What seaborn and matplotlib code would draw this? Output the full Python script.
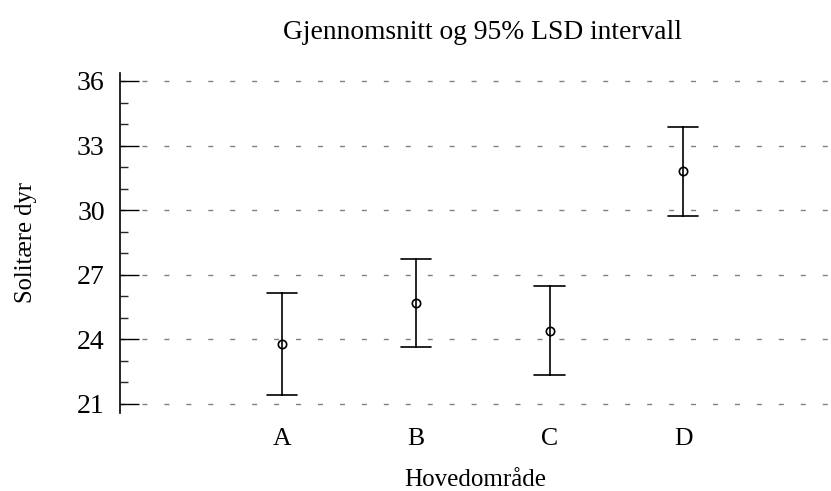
import numpy as np
import pandas as pd
import matplotlib
matplotlib.use("Agg")
import matplotlib.pyplot as plt
import seaborn as sns
from matplotlib.ticker import MultipleLocator

# Group means and 95% LSD interval half-widths
groups = ["A", "B", "C", "D"]
means = [23.8, 25.7, 24.4, 31.8]
half_widths = [2.37, 2.05, 2.07, 2.07]

title = "Gjennomsnitt og 95% LSD intervall"
xlabel = "Hovedområde"
ylabel = "Solitære dyr"
yticks = [21, 24, 27, 30, 33, 36]

# Long table: lower bound, mean and upper bound for each group
rows = []
for g, m, h in zip(groups, means, half_widths):
    rows += [(g, m - h), (g, m), (g, m + h)]
df = pd.DataFrame(rows, columns=["Hovedområde", "Solitære dyr"])

sns.set_theme(style="white")
plt.rcParams["font.family"] = ["Liberation Serif", "DejaVu Serif"]

fig = plt.figure(figsize=(8.31, 4.91), dpi=100)
ax = fig.add_axes([0.1444, 0.1589, 0.855, 0.6924])

sns.pointplot(
    data=df, x="Hovedområde", y="Solitære dyr", order=groups,
    estimator="median", errorbar=lambda v: (v.min(), v.max()),
    capsize=0.225, linestyle="none", color="black",
    marker="o", markersize=6, markerfacecolor="white",
    markeredgecolor="black", markeredgewidth=1.2,
    err_kws={"linewidth": 1.2}, ax=ax,
)

ax.set_xlim(-1.21, 4.10)
ax.set_ylim(20.58, 36.37)
ax.set_yticks(yticks)
ax.yaxis.set_minor_locator(MultipleLocator(1))

for side in ["top", "right", "bottom"]:
    ax.spines[side].set_visible(False)
ax.spines["left"].set_color("black")
ax.spines["left"].set_linewidth(1.2)

ax.tick_params(axis="y", which="major", direction="in", length=14, width=1.0,
               labelsize=20, pad=11, left=True, colors="black")
ax.tick_params(axis="y", which="minor", direction="in", length=6, width=1.0, left=True)
ax.tick_params(axis="x", length=0, labelsize=18.5, pad=11, colors="black")

ax.yaxis.grid(True, which="major", color="#808080", linewidth=1.0,
              linestyle=(0, (3.6, 12.2)))
ax.set_axisbelow(True)

ax.set_xlabel(xlabel, fontsize=18, labelpad=13.5, color="black")
ax.set_ylabel(ylabel, fontsize=17.7, labelpad=29, color="black")
fig.text(0.581, 0.934, title, ha="center", va="center", fontsize=19.8, color="black")

fig.savefig("out.png", dpi=100, facecolor="white")
